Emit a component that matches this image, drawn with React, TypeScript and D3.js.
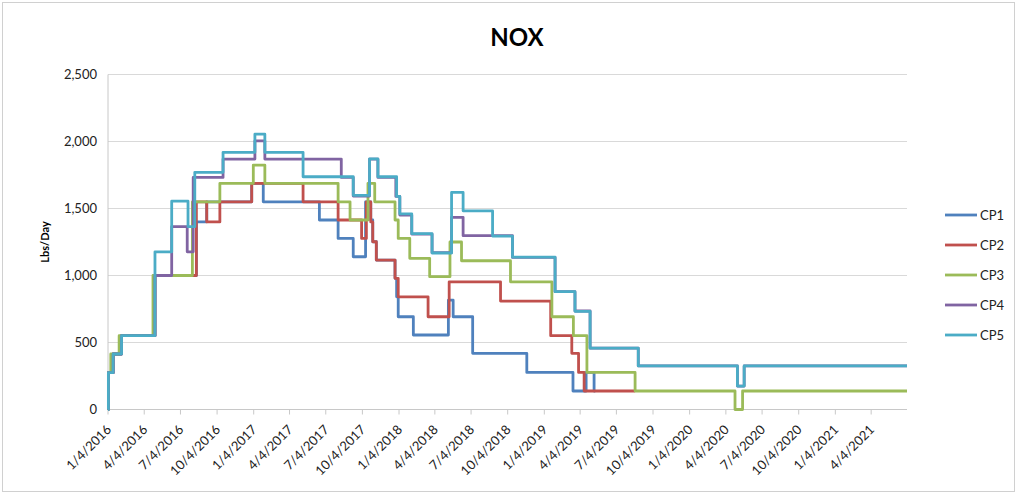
import React from "react";
import * as d3 from "d3";

const title = "NOX";
const yLabel = "Lbs/Day";
const seriesNames = ["CP1", "CP2", "CP3", "CP4", "CP5"];
const seriesColors = ["#4F81BD", "#C0504D", "#9BBB59", "#8064A2", "#4BACC6"];
const xDomain = ["2016-01-04", "2021-07-03"];
const yTicks = [0, 500, 1000, 1500, 2000, 2500];
const xTickLabels = [
  "1/4/2016", "4/4/2016", "7/4/2016", "10/4/2016",
  "1/4/2017", "4/4/2017", "7/4/2017", "10/4/2017",
  "1/4/2018", "4/4/2018", "7/4/2018", "10/4/2018",
  "1/4/2019", "4/4/2019", "7/4/2019", "10/4/2019",
  "1/4/2020", "4/4/2020", "7/4/2020", "10/4/2020",
  "1/4/2021", "4/4/2021",
];

const cp1: [string, number][] = [
  ["2016-01-04", 0], ["2016-01-05", 275], ["2016-01-17", 414], ["2016-02-07", 551],
  ["2016-05-01", 1000], ["2016-08-13", 1400], ["2016-09-08", 1550], ["2016-12-30", 1688],
  ["2017-01-28", 1550], ["2017-06-18", 1414], ["2017-08-04", 1277], ["2017-09-11", 1140],
  ["2017-10-12", 1550], ["2017-10-25", 1414], ["2017-10-30", 1252], ["2017-11-08", 1115],
  ["2017-12-25", 979], ["2017-12-29", 841], ["2018-01-02", 692], ["2018-02-09", 556],
  ["2018-05-08", 816], ["2018-05-20", 692], ["2018-07-08", 419], ["2018-11-21", 277],
  ["2019-03-17", 138], ["2019-04-19", 277], ["2019-05-09", 138], ["2019-05-12", 138],
];
const cp2: [string, number][] = [
  ["2016-01-04", 0], ["2016-01-05", 275], ["2016-01-17", 414], ["2016-02-07", 551],
  ["2016-05-01", 1000], ["2016-08-13", 1550], ["2016-09-08", 1400], ["2016-10-11", 1550],
  ["2016-12-30", 1688], ["2017-05-08", 1550], ["2017-08-04", 1414], ["2017-10-02", 1277],
  ["2017-10-14", 1550], ["2017-10-25", 1400], ["2017-10-30", 1252], ["2017-11-08", 1115],
  ["2017-12-25", 979], ["2018-01-02", 841], ["2018-03-18", 692], ["2018-05-10", 953],
  ["2018-09-16", 809], ["2019-01-20", 551], ["2019-03-14", 419], ["2019-03-31", 277],
  ["2019-04-14", 138], ["2019-08-20", 138],
];
const cp3: [string, number][] = [
  ["2016-01-04", 0], ["2016-01-05", 275], ["2016-01-11", 414], ["2016-02-01", 551],
  ["2016-04-26", 1000], ["2016-08-03", 1550], ["2016-10-11", 1688], ["2017-01-03", 1824],
  ["2017-02-01", 1688], ["2017-08-04", 1550], ["2017-09-03", 1414], ["2017-10-18", 1688],
  ["2017-11-04", 1550], ["2017-12-25", 1414], ["2018-01-02", 1277], ["2018-01-31", 1128],
  ["2018-03-22", 991], ["2018-05-12", 1250], ["2018-06-10", 1110], ["2018-10-11", 953],
  ["2019-01-23", 692], ["2019-03-18", 551], ["2019-04-21", 277], ["2019-08-20", 138],
  ["2020-04-27", 0], ["2020-05-16", 138], ["2021-07-03", 138],
];
const cp4: [string, number][] = [
  ["2016-01-04", 0], ["2016-01-05", 275], ["2016-01-17", 414], ["2016-02-07", 551],
  ["2016-05-01", 1000], ["2016-06-12", 1364], ["2016-07-21", 1177], ["2016-08-05", 1732],
  ["2016-10-19", 1869], ["2017-01-07", 2005], ["2017-02-01", 1869], ["2017-08-12", 1732],
  ["2017-09-11", 1593], ["2017-10-22", 1869], ["2017-11-12", 1732], ["2017-12-27", 1590],
  ["2018-01-06", 1451], ["2018-02-05", 1309], ["2018-03-28", 1170], ["2018-05-16", 1434],
  ["2018-06-14", 1297], ["2018-10-16", 1135], ["2019-01-31", 879], ["2019-03-22", 735],
  ["2019-04-29", 458], ["2019-08-28", 325], ["2020-05-03", 175], ["2020-05-20", 325],
  ["2021-07-03", 325],
];
const cp5: [string, number][] = [
  ["2016-01-04", 0], ["2016-01-05", 275], ["2016-01-17", 414], ["2016-02-07", 551],
  ["2016-05-01", 1177], ["2016-06-12", 1555], ["2016-07-23", 1364], ["2016-08-09", 1770],
  ["2016-10-19", 1919], ["2017-01-07", 2055], ["2017-02-01", 1919], ["2017-05-08", 1737],
  ["2017-09-11", 1598], ["2017-10-22", 1870], ["2017-11-12", 1737], ["2017-12-29", 1590],
  ["2018-01-06", 1460], ["2018-02-05", 1312], ["2018-03-28", 1168], ["2018-05-16", 1620],
  ["2018-06-14", 1483], ["2018-08-27", 1294], ["2018-10-16", 1137], ["2019-01-31", 879],
  ["2019-03-22", 733], ["2019-04-29", 458], ["2019-08-28", 325], ["2020-05-03", 175],
  ["2020-05-20", 325], ["2021-07-03", 325],
];
const seriesData = [cp1, cp2, cp3, cp4, cp5];

const W = 1018;
const H = 494;
const plot = { left: 108, right: 907, top: 74.5, bottom: 409.5 };
const FONT = "Lato, 'Liberation Sans', sans-serif";

export default function App() {
  const parseIso = d3.utcParse("%Y-%m-%d");
  const parseTick = d3.utcParse("%m/%d/%Y");
  const x = d3
    .scaleUtc()
    .domain(xDomain.map((s) => parseIso(s) as Date))
    .range([plot.left, plot.right]);
  const y = d3.scaleLinear().domain([0, 2500]).range([plot.bottom, plot.top]);
  const fmt = d3.format(",");
  const line = d3
    .line<[string, number]>()
    .x((d) => x(parseIso(d[0]) as Date))
    .y((d) => y(d[1]))
    .curve(d3.curveStepAfter);

  return (
    <svg
      width={W}
      height={H}
      style={{ position: "absolute", left: 0, top: 0, background: "#fff" }}
      fontFamily={FONT}
    >
      <rect x={0} y={0} width={W} height={H} fill="#fff" />
      <rect x={2.5} y={2.5} width={W - 6} height={H - 5} fill="none" stroke="#d0d0d0" />
      <text x={517} y={46} textAnchor="middle" fontSize={24} fontWeight="bold" fill="#000">
        {title}
      </text>
      {yTicks.map((t) => (
        <g key={t}>
          {t > 0 && (
            <line x1={plot.left} x2={plot.right} y1={y(t)} y2={y(t)} stroke="#d9d9d9" strokeWidth={1} />
          )}
          <text x={97} y={y(t)} dy="0.35em" textAnchor="end" fontSize={13} fill="#222">
            {fmt(t)}
          </text>
        </g>
      ))}
      <line x1={plot.left} x2={plot.left} y1={plot.top} y2={plot.bottom} stroke="#c8c8c8" />
      <line x1={plot.left} x2={plot.right} y1={plot.bottom} y2={plot.bottom} stroke="#c8c8c8" />
      {xTickLabels.map((lab) => {
        const tx = x(parseTick(lab) as Date);
        return (
          <g key={lab}>
            <line x1={tx} x2={tx} y1={plot.bottom} y2={plot.bottom + 5} stroke="#c8c8c8" />
            <text
              transform={`translate(${tx + 4},${plot.bottom + 21}) rotate(-45)`}
              textAnchor="end"
              fontSize={13}
              fill="#222"
            >
              {lab}
            </text>
          </g>
        );
      })}
      <text
        transform={`translate(49,${(plot.top + plot.bottom) / 2}) rotate(-90)`}
        textAnchor="middle"
        fontSize={11}
        fontWeight="bold"
        fill="#000"
      >
        {yLabel}
      </text>
      {seriesData.map((s, i) => (
        <path
          key={seriesNames[i]}
          d={line(s) || ""}
          fill="none"
          stroke={seriesColors[i]}
          strokeWidth={2.8}
          strokeLinejoin="round"
        />
      ))}
      {seriesNames.map((n, i) => {
        const ly = 215 + i * 30;
        return (
          <g key={n}>
            <line x1={945} x2={977} y1={ly} y2={ly} stroke={seriesColors[i]} strokeWidth={2.8} />
            <text x={980} y={ly} dy="0.35em" fontSize={13} fill="#222">
              {n}
            </text>
          </g>
        );
      })}
    </svg>
  );
}
